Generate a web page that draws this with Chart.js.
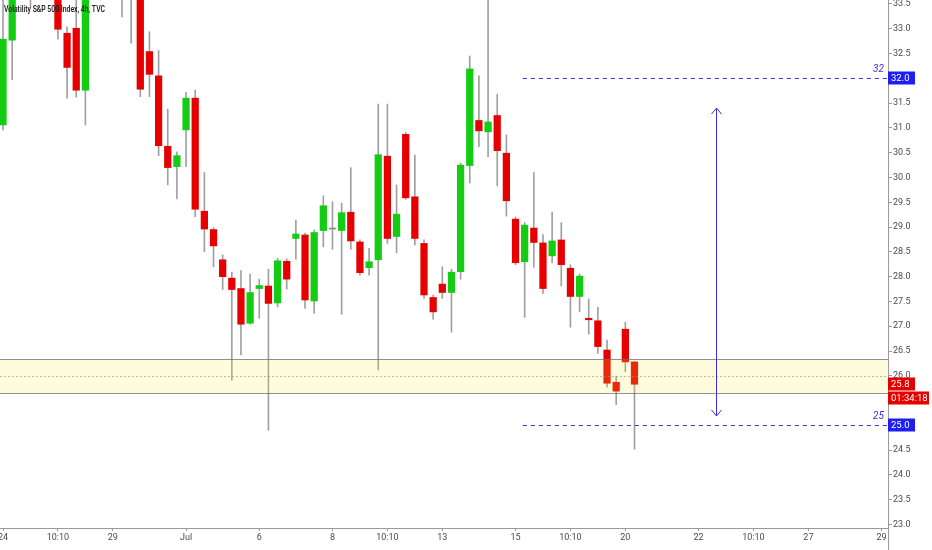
<!DOCTYPE html>
<html>
<head>
<meta charset="utf-8">
<script src="https://cdn.jsdelivr.net/npm/chart.js@4.4.1/dist/chart.umd.min.js"></script>
<style>
  html, body { margin: 0; padding: 0; background: #fff; }
  #wrap { width: 932px; height: 550px; position: relative; }
</style>
</head>
<body>
<div id="wrap"><canvas id="chart"></canvas></div>
<script>
// VIX 4h candles (first ones run off the top)
const opens  = [31.06, 32.77, 34.10, 34.30, 34.20, 34.60, 33.90, 32.91, 33.01, 31.76,
                33.90, 34.20, 34.00, 34.00, 33.80, 33.90, 32.54, 32.05, 30.63, 30.22,
                30.96, 31.60, 29.32, 28.95, 28.34, 27.97, 27.76, 27.06, 27.76, 27.81,
                27.47, 28.31, 28.77, 28.84, 27.51, 28.93, 28.96, 28.93, 29.30, 28.70,
                28.18, 28.34, 30.43, 28.81, 30.87, 29.61, 28.67, 27.58, 27.85, 27.68,
                28.10, 30.24, 31.15, 30.92, 31.25, 30.49, 29.16, 28.30, 28.98, 28.68,
                28.42, 28.74, 28.17, 27.60, 27.16, 27.11, 26.52, 25.87, 26.94, 26.28];
const highs  = [33.90, 34.30, 34.80, 34.60, 34.90, 34.80, 34.00, 33.04, 33.70, 34.10,
                34.40, 34.50, 34.30, 34.20, 34.00, 34.10, 32.94, 32.56, 31.38, 30.52,
                31.72, 31.76, 30.10, 28.99, 28.44, 28.09, 28.12, 28.05, 27.95, 28.15,
                28.37, 28.36, 29.14, 28.88, 28.94, 29.63, 29.51, 29.48, 30.20, 28.74,
                28.57, 31.48, 31.48, 29.85, 30.91, 30.45, 28.74, 27.63, 28.20, 28.15,
                30.29, 32.45, 32.05, 33.80, 31.68, 30.86, 29.20, 29.09, 30.10, 28.85,
                29.30, 29.09, 28.24, 28.05, 27.55, 27.38, 26.72, 25.99, 27.08, 26.29];
const lows   = [30.96, 31.97, 33.80, 33.44, 33.90, 33.80, 32.79, 31.60, 31.62, 31.06,
                33.70, 33.80, 33.70, 33.24, 32.71, 31.63, 31.63, 30.44, 29.85, 29.57,
                30.22, 29.21, 28.50, 28.20, 27.74, 25.91, 26.42, 27.04, 27.16, 24.90,
                27.39, 27.75, 28.35, 27.36, 27.26, 28.60, 28.55, 27.24, 28.55, 28.03,
                28.03, 26.12, 28.67, 28.48, 29.56, 28.64, 27.56, 27.14, 27.56, 26.88,
                27.95, 29.89, 30.62, 30.42, 29.83, 29.22, 28.24, 27.18, 28.19, 27.66,
                28.28, 27.81, 26.98, 27.29, 26.84, 26.45, 25.77, 25.42, 26.08, 24.52];
const closes = [32.79, 34.00, 34.50, 34.00, 34.60, 34.20, 32.99, 32.22, 31.76, 33.90,
                34.20, 34.00, 33.95, 33.80, 33.70, 31.78, 32.08, 30.64, 30.20, 30.44,
                31.60, 29.36, 28.96, 28.62, 28.00, 27.74, 27.04, 27.68, 27.82, 27.46,
                28.32, 27.95, 28.86, 27.53, 28.89, 29.43, 28.96, 29.29, 28.72, 28.08,
                28.30, 30.46, 28.77, 29.26, 29.59, 28.77, 27.63, 27.29, 27.68, 28.09,
                30.25, 32.19, 30.94, 31.12, 30.54, 29.53, 28.28, 29.04, 28.69, 27.76,
                28.72, 28.24, 27.60, 28.01, 27.13, 26.59, 25.85, 25.69, 26.28, 25.83];

// bottom axis: candle index where each date label sits
const xTickIdx  = [0, 6, 12, 20, 28, 36, 42, 48, 56, 62, 68, 76, 82, 88, 96];
const xTickText = ['24', '10:10', '29', 'Jul', '6', '8', '10:10', '13', '15', '10:10', '20', '22', '10:10', '27', '29'];
const yTicks = [23.0, 23.5, 24.0, 24.5, 25.0, 25.5, 26.0, 26.5, 27.0, 27.5, 28.0,
                28.5, 29.0, 29.5, 30.0, 30.5, 31.0, 31.5, 32.0, 32.5, 33.0, 33.5];

// drawings on the chart
const zone = [25.65, 26.33];
const zoneMid = 25.99;
const targets = [32, 25];
const arrowRange = [25.19, 31.40];
const arrowIdx = 77.9;
const lineStartIdx = 56.8;
const countdown = '01:34:18';

const UP = '#14cc14', DOWN = '#e60000', DOJI = '#8a8a8a';
const LINE_BLUE = '#3a2ee6', TAG_BLUE = '#1e1ef2', TAG_RED = '#e40000';

const idx = opens.map((_, i) => i);
const bodyColors = idx.map(i => closes[i] > opens[i] ? UP : (closes[i] < opens[i] ? DOWN : DOJI));

function tag(ctx, text, y, color, left, w) {
  ctx.fillStyle = color;
  ctx.fillRect(left, Math.round(y) - 6.5, w, 13);
  ctx.fillStyle = '#fff';
  ctx.font = '9.5px Roboto';
  ctx.textAlign = 'left';
  ctx.textBaseline = 'middle';
  ctx.fillText(text, left + 3, Math.round(y) + 0.5);
}

// no extra room for the edge labels, the plot runs to the canvas edges
function noPadding(axis) {
  axis.paddingLeft = 0;
  axis.paddingRight = 0;
  axis.paddingTop = 0;
  axis.paddingBottom = 0;
}

const overlay = {
  id: 'overlay',
  afterDatasetsDraw(chart) {
    const { ctx, chartArea: a, scales: { x, y } } = chart;
    ctx.save();
    ctx.beginPath();
    ctx.rect(a.left, a.top, a.right - a.left, a.bottom - a.top);
    ctx.clip();

    // support zone, semi transparent over the candles
    const zt = y.getPixelForValue(zone[1]), zb = y.getPixelForValue(zone[0]);
    ctx.fillStyle = 'rgba(255, 236, 60, 0.17)';
    ctx.fillRect(a.left, zt, a.right - a.left, zb - zt);
    ctx.strokeStyle = 'rgba(110,110,110,0.75)';
    ctx.lineWidth = 1;
    ctx.beginPath();
    ctx.moveTo(a.left, Math.round(zt) + 0.5); ctx.lineTo(a.right, Math.round(zt) + 0.5);
    ctx.moveTo(a.left, Math.round(zb) + 0.5); ctx.lineTo(a.right, Math.round(zb) + 0.5);
    ctx.stroke();
    ctx.setLineDash([2, 2]);
    ctx.strokeStyle = 'rgba(150,140,100,0.6)';
    const zm = Math.round(y.getPixelForValue(zoneMid)) + 0.5;
    ctx.beginPath(); ctx.moveTo(a.left, zm); ctx.lineTo(a.right, zm); ctx.stroke();

    // target lines
    ctx.setLineDash([4, 4]);
    ctx.strokeStyle = LINE_BLUE;
    const x0 = x.getPixelForValue(lineStartIdx);
    targets.forEach(t => {
      const ty = Math.round(y.getPixelForValue(t)) + 0.5;
      ctx.beginPath(); ctx.moveTo(x0, ty); ctx.lineTo(a.right, ty); ctx.stroke();
    });
    ctx.setLineDash([]);
    ctx.fillStyle = LINE_BLUE;
    ctx.font = 'italic 10px Roboto';
    ctx.textAlign = 'right';
    ctx.textBaseline = 'bottom';
    targets.forEach(t => ctx.fillText(String(t), a.right - 4, y.getPixelForValue(t) - 4));

    // double arrow
    const ax = Math.round(x.getPixelForValue(arrowIdx)) + 0.5;
    const ay1 = y.getPixelForValue(arrowRange[1]), ay2 = y.getPixelForValue(arrowRange[0]);
    ctx.strokeStyle = LINE_BLUE;
    ctx.beginPath();
    ctx.moveTo(ax, ay1); ctx.lineTo(ax, ay2);
    ctx.moveTo(ax - 5, ay1 + 6); ctx.lineTo(ax, ay1); ctx.lineTo(ax + 5, ay1 + 6);
    ctx.moveTo(ax - 5, ay2 - 6); ctx.lineTo(ax, ay2); ctx.lineTo(ax + 5, ay2 - 6);
    ctx.stroke();
    ctx.restore();
  },
  afterDraw(chart) {
    const { ctx, chartArea: a, scales: { y } } = chart;
    ctx.save();
    // right axis line runs to the bottom edge
    ctx.strokeStyle = '#9a9a9a';
    ctx.beginPath();
    ctx.moveTo(a.right + 0.5, a.bottom); ctx.lineTo(a.right + 0.5, chart.height);
    ctx.stroke();

    // title
    ctx.fillStyle = '#222';
    ctx.font = '600 8.5px Roboto';
    ctx.textAlign = 'left';
    ctx.textBaseline = 'middle';
    ctx.fillText('Volatility S&P 500 Index, 4h, TVC', 4, 9.5, 101);

    // price tags on the axis
    const last = closes[closes.length - 1];
    targets.forEach(t => tag(ctx, t.toFixed(1), y.getPixelForValue(t), TAG_BLUE, a.right, 27));
    const ly = y.getPixelForValue(last);
    tag(ctx, last.toFixed(1), ly, TAG_RED, a.right, 27);
    tag(ctx, countdown, ly + 14, TAG_RED, a.right, 41);
    ctx.restore();
  }
};

new Chart(document.getElementById('chart'), {
  type: 'bar',
  data: {
    datasets: [
      {
        label: 'body',
        data: idx.map(i => ({ x: i, y: [opens[i], closes[i]] })),
        backgroundColor: bodyColors,
        borderWidth: 0,
        barThickness: 6.6,
        minBarLength: 1,
        grouped: false,
        clip: 0,
        order: 1
      },
      {
        label: 'wick',
        data: idx.map(i => ({ x: i, y: [lows[i], highs[i]] })),
        backgroundColor: '#a0a0a0',
        borderWidth: 0,
        barThickness: 1,
        grouped: false,
        clip: 0,
        order: 2
      }
    ]
  },
  options: {
    responsive: true,
    maintainAspectRatio: false,
    animation: false,
    layout: { padding: 0, autoPadding: false },
    plugins: { legend: { display: false }, tooltip: { enabled: false } },
    scales: {
      x: {
        type: 'linear',
        min: -0.33,
        max: 96.7,
        offset: false,
        grid: { offset: false, drawOnChartArea: false, tickLength: 3, color: '#9a9a9a' },
        border: { display: true, color: '#9a9a9a' },
        afterBuildTicks: axis => { axis.ticks = xTickIdx.map(v => ({ value: v })); },
        afterFit: axis => { axis.height = 22; noPadding(axis); },
        ticks: {
          autoSkip: false,
          maxRotation: 0,
          padding: 1,
          color: '#4a4a4a',
          font: { family: 'Roboto', size: 9 },
          callback: v => xTickText[xTickIdx.indexOf(v)]
        }
      },
      y: {
        position: 'right',
        min: 22.93,
        max: 33.58,
        grid: { drawOnChartArea: false, tickLength: 4, color: '#9a9a9a' },
        border: { display: true, color: '#9a9a9a' },
        afterBuildTicks: axis => { axis.ticks = yTicks.map(v => ({ value: v })); },
        afterFit: axis => { axis.width = 44; noPadding(axis); },
        ticks: {
          padding: 1,
          color: '#4a4a4a',
          font: { family: 'Roboto', size: 9 },
          callback: v => v.toFixed(1)
        }
      }
    }
  },
  plugins: [overlay]
});
</script>
</body>
</html>
